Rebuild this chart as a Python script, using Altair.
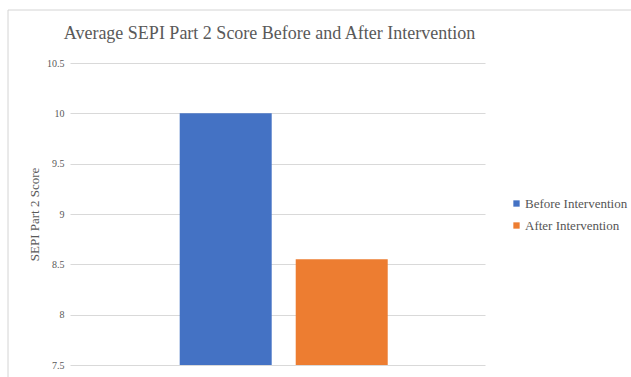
import altair as alt
import pandas as pd

# Average SEPI Part 2 scores
series = ["Before Intervention", "After Intervention"]
scores = [10.0, 8.55]
colors = ["#4472C4", "#ED7D31"]
y_ticks = [7.5, 8, 8.5, 9, 9.5, 10, 10.5]

df = pd.DataFrame({"series": series, "score": scores})

serif = "Liberation Serif"

bars = alt.Chart(df).mark_bar(clip=True).encode(
    x=alt.X("series:N", sort=series, axis=None,
            scale=alt.Scale(paddingInner=0.207, paddingOuter=0.892, align=0.53)),
    y=alt.Y("score:Q",
            scale=alt.Scale(domain=[7.5, 10.5], zero=False, nice=False),
            axis=alt.Axis(values=y_ticks, title="SEPI Part 2 Score",
                          labelExpr="datum.value == 8 || datum.value == 9 || datum.value == 10 ? format(datum.value, 'd') : format(datum.value, '.1f')")),
    y2=alt.datum(7.5),
    color=alt.Color("series:N", sort=series,
                    scale=alt.Scale(domain=series, range=colors),
                    legend=alt.Legend(title=None, orient="none", legendX=440, legendY=134,
                                      symbolType="square", symbolSize=40,
                                      symbolStrokeWidth=0, rowPadding=8,
                                      labelFont=serif, labelFontSize=13,
                                      labelColor="#555555", labelOffset=2)),
)

# outer chart frame
frame = alt.Chart(alt.Data(values=[{}])).mark_rect(
    fill=None, stroke="#d4d4d4", strokeWidth=1
).encode(
    x=alt.value(-62), x2=alt.value(600),
    y=alt.value(-53), y2=alt.value(400),
)

chart = alt.layer(frame, bars).properties(
    width=415,
    height=302,
    padding={"left": 70, "top": 63, "right": 146, "bottom": 12},
    autosize=alt.AutoSizeParams(type="none"),
    background="white",
    title=alt.TitleParams(
        "Average SEPI Part 2 Score Before and After Intervention",
        font=serif, fontSize=18, fontWeight="normal", color="#595959",
        anchor="middle", frame="group", offset=0, dy=33, dx=-8,
    ),
).configure(font=serif).configure_view(stroke=None).configure_axis(
    grid=True, gridColor="#d9d9d9", gridWidth=1,
    domain=False, ticks=False,
    labelFont=serif, labelFontSize=10, labelColor="#595959", labelPadding=6,
    titleFont=serif, titleFontSize=13, titleColor="#595959", titleFontWeight="normal",
    titlePadding=5,
)

chart.save("out.html", embed_options={"renderer": "svg", "actions": False})
